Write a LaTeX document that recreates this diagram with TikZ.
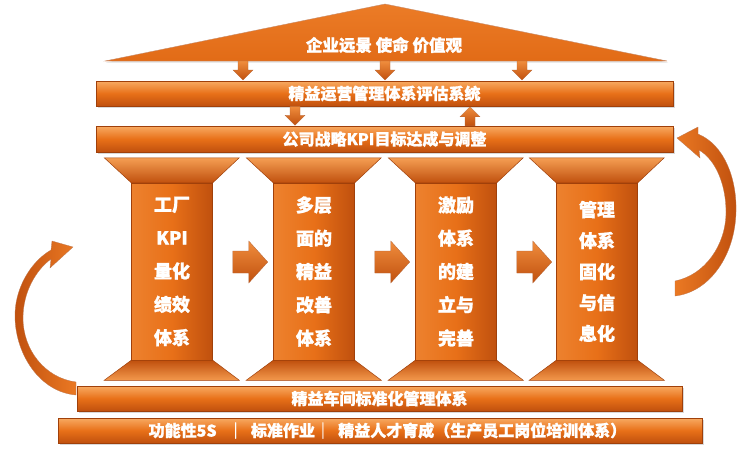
\documentclass[tikz,border=0pt]{standalone}
\usepackage{fontspec}
\setmainfont{Noto Sans CJK SC}[BoldFeatures={FakeBold=1.2}]
\usetikzlibrary{shadows,calc}
\definecolor{oL}{RGB}{248,170,98}
\definecolor{oM}{RGB}{232,112,24}
\definecolor{oD}{RGB}{192,80,14}
\definecolor{oE}{RGB}{160,64,10}
\begin{document}
\begin{tikzpicture}[x=1pt,y=-1pt,
  bar/.style={rectangle, draw=oE, line width=0.5pt, top color=oL, bottom color=oD, middle color=oM,
    text=white, font=\bfseries\fontsize{16}{16}\selectfont, inner sep=0pt,
    drop shadow={opacity=0.3, shadow xshift=1.5pt, shadow yshift=-1.5pt}},
  shaft/.style={rectangle, draw=oE, line width=0.5pt, left color=oM!70!oL, right color=oD, middle color=oM,
    text=white, align=center, inner sep=0pt, minimum width=81pt, minimum height=177pt,
    font=\bfseries\fontsize{18}{33.3}\selectfont},
  captop/.style={draw=oE, line width=0.5pt, top color=oL!80!oM, bottom color=oD},
  capbot/.style={draw=oE, line width=0.5pt, top color=oD, bottom color=oL!70!oM},
  blk/.style={top color=oL!50!oM, bottom color=oD, draw=oE!80, line width=0.3pt},
  curv/.style={left color=oD, right color=oM!85!oL, draw=oE!70, line width=0.3pt},
  lbl/.style={text=white, font=\bfseries\fontsize{16.5}{16.5}\selectfont, inner sep=0pt},
  darr/.pic={\shade[blk] (-5,0) -- (5,0) -- (5,9) -- (10,9) -- (0,19) -- (-10,9) -- (-5,9) -- cycle;},
  uarr/.pic={\shade[blk] (-5,0) -- (5,0) -- (5,-9) -- (10,-9) -- (0,-19) -- (-10,-9) -- (-5,-9) -- cycle;},
  rarr/.pic={\shade[blk] (0,-11) -- (16,-11) -- (16,-21) -- (35,0) -- (16,21) -- (16,11) -- (0,11) -- cycle;}
]
\path[use as bounding box] (0,0) rectangle (750,451);

% curved arrows
\shade[curv] (51,250) .. controls (30,262) and (14,290) .. (15,318)
  .. controls (16,355) and (40,392) .. (76,395) -- (76,382)
  .. controls (45,378) and (23,350) .. (23,318)
  .. controls (23,292) and (36,270) .. (51,259)
  -- (50,268) -- (73,247) -- (52,241) -- cycle;
\shade[curv, left color=oM!85!oL, right color=oD] (698,134) .. controls (725,145) and (737,180) .. (736,212)
  .. controls (735,255) and (710,292) .. (675,296) -- (675,281)
  .. controls (705,275) and (726,245) .. (726,212)
  .. controls (726,185) and (716,160) .. (699,150)
  -- (700,158) -- (677,138) -- (698,127) -- cycle;

% roof
\shade[top color=oM!80!oL, bottom color=oM!85!oD, draw=oE!60, line width=0.4pt, drop shadow={opacity=0.25, shadow xshift=1pt, shadow yshift=-1.5pt}]
  (105,61) -- (385,4) -- (667,61) -- cycle;
\node[lbl] (roof) at (384,45) {企业远景 使命 价值观};

% bars
\node[bar, minimum width=577pt, minimum height=25pt] (bar1) at (384.5,93.5) {精益运营管理体系评估系统};
\node[bar, minimum width=577pt, minimum height=26pt] (bar2) at (384.5,139) {公司战略KPI目标达成与调整};
\node[bar, minimum width=605pt, minimum height=25pt] (bar3) at (379.5,398.5) {精益车间标准化管理体系};
\node[bar, minimum width=644pt, minimum height=25pt] (bar4) at (380,430.5) {\hspace*{15pt}功能性5S\ \ \ ｜\ \ 标准作业｜\ \ 精益人才育成（生产员工岗位培训体系）};

% arrows between roof and bars
\path (243,61) pic {darr};
\path (385,61) pic {darr};
\path (522,61) pic {darr};
\path (bar1.south -| 295,0) pic {darr};
\path (bar2.north -| 470,0) pic {uarr};

% pillars
\node[shaft] (p1) at (172,271.5) {工厂\\KPI\\量化\\绩效\\体系};
\node[shaft] (p2) at (314,271.5) {多层\\面的\\精益\\改善\\体系};
\node[shaft] (p3) at (456,271.5) {激励\\体系\\的建\\立与\\完善};
\node[shaft, font=\bfseries\fontsize{18}{31}\selectfont] (p4) at (597,271.5) {管理\\体系\\固化\\与信\\息化};
\foreach \p in {p1,p2,p3,p4}{
  \shade[captop] (\p.north west) -- ++(-27,-25) -- ++(135,0) -- (\p.north east) -- cycle;
  \shade[capbot] (\p.south west) -- ++(-27,20) -- ++(135,0) -- (\p.south east) -- cycle;
}

% arrows between pillars
\path ($(p1.east)+(20,-9.5)$) pic {rarr};
\path ($(p2.east)+(20,-9.5)$) pic {rarr};
\path ($(p3.east)+(20,-9.5)$) pic {rarr};
\end{tikzpicture}
\end{document}
